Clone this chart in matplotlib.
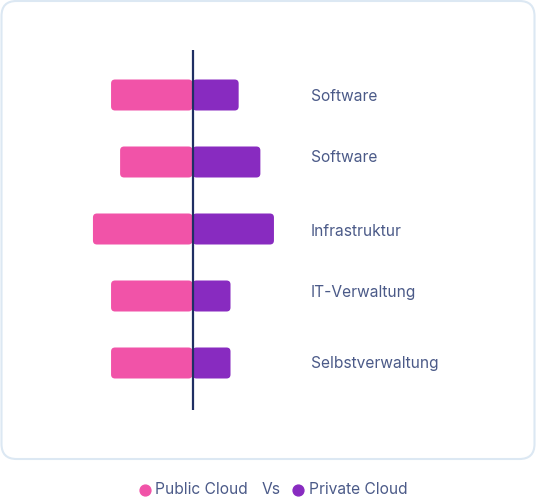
import matplotlib
matplotlib.use("Agg")
import matplotlib.pyplot as plt
from matplotlib.patches import FancyBboxPatch
from matplotlib.lines import Line2D

# ---- data ----
categories = ["Software", "Software", "Infrastruktur", "IT-Verwaltung", "Selbstverwaltung"]
public_cloud = [45, 40, 55, 45, 45]
private_cloud = [25.5, 37.5, 45, 21, 21]
label_offsets_px = [1.5, -4.5, 2.5, -4, 0.5]

PINK = "#f153a8"
PURPLE = "#882bc0"
LINE = "#1f2f63"
TEXT = "#4b5a88"
BORDER = "#dce8f3"
FONT = "Inter"

W, H, DPI = 536, 499, 100
fig = plt.figure(figsize=(W / DPI, H / DPI), dpi=DPI)
fig.patch.set_facecolor("white")

# card
card = FancyBboxPatch((1.5 / DPI, 40 / DPI), 533 / DPI, 458 / DPI,
                      boxstyle="round,pad=0,rounding_size=0.15",
                      transform=fig.dpi_scale_trans, facecolor="none",
                      edgecolor=BORDER, linewidth=1.5, zorder=-1)
fig.patches.append(card)

# axes in pixel layout
top_px, bot_px = 50, 410
ax = fig.add_axes([0, (H - bot_px) / H, 1, (bot_px - top_px) / H])
ax.set_facecolor("none")
px_per_unit = 1.81
center_px = 192.5
ax.set_xlim(-center_px / px_per_unit, (W - center_px) / px_per_unit)
first_px, step_px = 95, 67
ax.set_ylim((bot_px - first_px) / step_px, -(first_px - top_px) / step_px)
ax.axis("off")

ypos = list(range(len(categories)))
bh = 31 / step_px
b1 = ax.barh(ypos, [-v for v in public_cloud], height=bh, color=PINK, zorder=2)
b2 = ax.barh(ypos, private_cloud, height=bh, color=PURPLE, zorder=2)

# replace rectangles with rounded boxes
r_px = 4
rs = r_px / px_per_unit
aspect = (1 / step_px) / (1 / px_per_unit)
for bars in (b1, b2):
    for rect in bars.patches:
        x, y = rect.get_x(), rect.get_y()
        w, h = rect.get_width(), rect.get_height()
        if w < 0:
            x, w = x + w, -w
        fb = FancyBboxPatch((x, y), w, h,
                            boxstyle=f"round,pad=0,rounding_size={rs}",
                            mutation_aspect=aspect,
                            facecolor=rect.get_facecolor(), edgecolor="none",
                            zorder=2)
        rect.set_visible(False)
        ax.add_patch(fb)

ax.axvline(0, color=LINE, linewidth=1.6, zorder=3)

label_x = (311 - center_px) / px_per_unit
for i, (c, off) in enumerate(zip(categories, label_offsets_px)):
    ax.text(label_x, i + off / step_px, c, ha="left", va="center",
            fontsize=11.2, color=TEXT, family=FONT)

# legend
ly = (H - 489.5) / H
fig.add_artist(Line2D([144.5 / W], [ly], marker="o", markersize=7.8,
                      color=PINK, linestyle="none", transform=fig.transFigure))
fig.add_artist(Line2D([297.5 / W], [ly], marker="o", markersize=7.8,
                      color=PURPLE, linestyle="none", transform=fig.transFigure))
fig.text(155 / W, ly, "Public Cloud", ha="left", va="center", fontsize=11.2,
         color=TEXT, family=FONT)
fig.text(262 / W, ly, "Vs", ha="left", va="center", fontsize=11.2,
         color=TEXT, family=FONT)
fig.text(309 / W, ly, "Private Cloud", ha="left", va="center", fontsize=11.2,
         color=TEXT, family=FONT)

fig.savefig("out.png", dpi=DPI, facecolor="white")
